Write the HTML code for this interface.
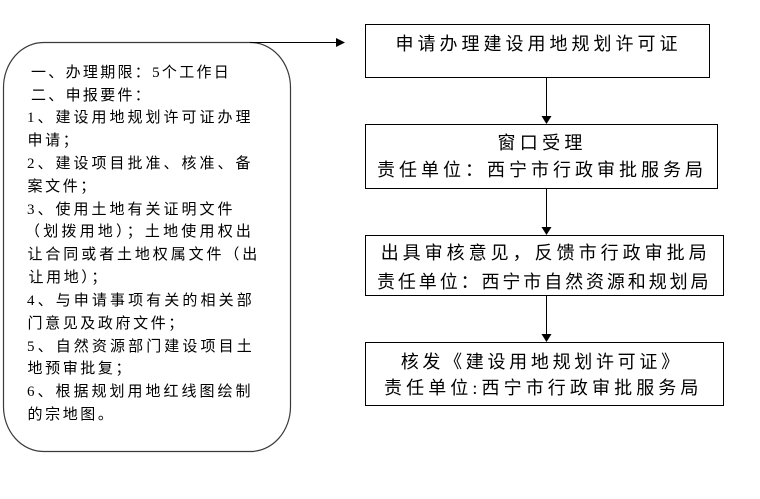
<!DOCTYPE html>
<html><head><meta charset="utf-8">
<style>
html,body{margin:0;padding:0;background:#fff;}
body{width:760px;height:499px;position:relative;overflow:hidden;}
.t{position:absolute;white-space:nowrap;color:#000;font-family:"Liberation Serif","Noto Sans CJK SC",sans-serif;}
.l{font-size:15px;line-height:20px;height:20px;}
.r{font-size:18px;line-height:24px;height:24px;}
svg{position:absolute;left:0;top:0;}
</style></head><body>
<svg width="760" height="499" viewBox="0 0 760 499">
  <path d="M43.5,42.5 L250.5,42.5 A40,45 0 0 1 290.5,87.5 L290.5,406.5 A40,45 0 0 1 250.5,451.5 L43.5,451.5 A40,45 0 0 1 3.5,406.5 L3.5,87.5 A40,45 0 0 1 43.5,42.5 Z" fill="none" stroke="#3a3a3a" stroke-width="1.2"/>
  <line x1="250" y1="42.5" x2="337" y2="42.5" stroke="#000" stroke-width="1"/>
  <polygon points="336,38 336,47 345,42.5" fill="#000"/>
  <rect x="365.5" y="24.5" width="344" height="53" fill="none" stroke="#000" stroke-width="1"/>
  <rect x="365.5" y="124.5" width="352" height="64" fill="none" stroke="#000" stroke-width="1"/>
  <rect x="365.5" y="235.5" width="358" height="60" fill="none" stroke="#000" stroke-width="1"/>
  <rect x="365.5" y="342.5" width="358" height="63" fill="none" stroke="#000" stroke-width="1"/>
  <line x1="546.5" y1="77.5" x2="546.5" y2="117" stroke="#000" stroke-width="1"/>
  <polygon points="541.5,116 551.5,116 546.5,124" fill="#000"/>
  <line x1="546.5" y1="188.5" x2="546.5" y2="228" stroke="#000" stroke-width="1"/>
  <polygon points="541.5,227 551.5,227 546.5,235" fill="#000"/>
  <line x1="546.5" y1="295.5" x2="546.5" y2="335" stroke="#000" stroke-width="1"/>
  <polygon points="541.5,334 551.5,334 546.5,342" fill="#000"/>
</svg>

<!-- left box text -->
<div class="t l" style="left:31px;top:63px;letter-spacing:2.3px;">一、办理期限：5个工作日</div>
<div class="t l" style="left:31px;top:86px;letter-spacing:2.3px;">二、申报要件：</div>
<div class="t l" style="left:27px;top:108px;letter-spacing:3px;">1、建设用地规划许可证办理</div>
<div class="t l" style="left:27.5px;top:131px;letter-spacing:2.6px;">申请；</div>
<div class="t l" style="left:27px;top:154px;letter-spacing:3px;">2、建设项目批准、核准、备</div>
<div class="t l" style="left:27.5px;top:177px;letter-spacing:2.6px;">案文件；</div>
<div class="t l" style="left:27px;top:200px;letter-spacing:3px;">3、使用土地有关证明文件</div>
<div class="t l" style="left:25px;top:222px;letter-spacing:3.2px;">（划拨用地）；土地使用权出</div>
<div class="t l" style="left:27.5px;top:245px;letter-spacing:2.9px;">让合同或者土地权属文件（出</div>
<div class="t l" style="left:28.5px;top:268px;letter-spacing:2.6px;">让用地）；</div>
<div class="t l" style="left:27px;top:291px;letter-spacing:3.1px;">4、与申请事项有关的相关部</div>
<div class="t l" style="left:27.5px;top:314px;letter-spacing:2.6px;">门意见及政府文件；</div>
<div class="t l" style="left:27px;top:337px;letter-spacing:3.1px;">5、自然资源部门建设项目土</div>
<div class="t l" style="left:27.5px;top:359px;letter-spacing:2.6px;">地预审批复；</div>
<div class="t l" style="left:27px;top:382px;letter-spacing:3px;">6、根据规划用地红线图绘制</div>
<div class="t l" style="left:27.5px;top:405px;letter-spacing:2.6px;">的宗地图。</div>

<!-- right boxes text -->
<div class="t r" style="left:395.5px;top:32px;letter-spacing:4px;">申请办理建设用地规划许可证</div>
<div class="t r" style="left:497.5px;top:131px;letter-spacing:4.3px;">窗口受理</div>
<div class="t r" style="left:377px;top:158px;letter-spacing:4px;">责任单位：西宁市行政审批服务局</div>
<div class="t r" style="left:380.7px;top:241px;letter-spacing:4px;">出具审核意见，反馈市行政审批局</div>
<div class="t r" style="left:377px;top:270px;letter-spacing:2.9px;">责任单位：西宁市自然资源和规划局</div>
<div class="t r" style="left:400.7px;top:350px;letter-spacing:3.7px;">核发《建设用地规划许可证》</div>
<div class="t r" style="left:384px;top:376px;letter-spacing:4.1px;">责任单位:西宁市行政审批服务局</div>
</body></html>
